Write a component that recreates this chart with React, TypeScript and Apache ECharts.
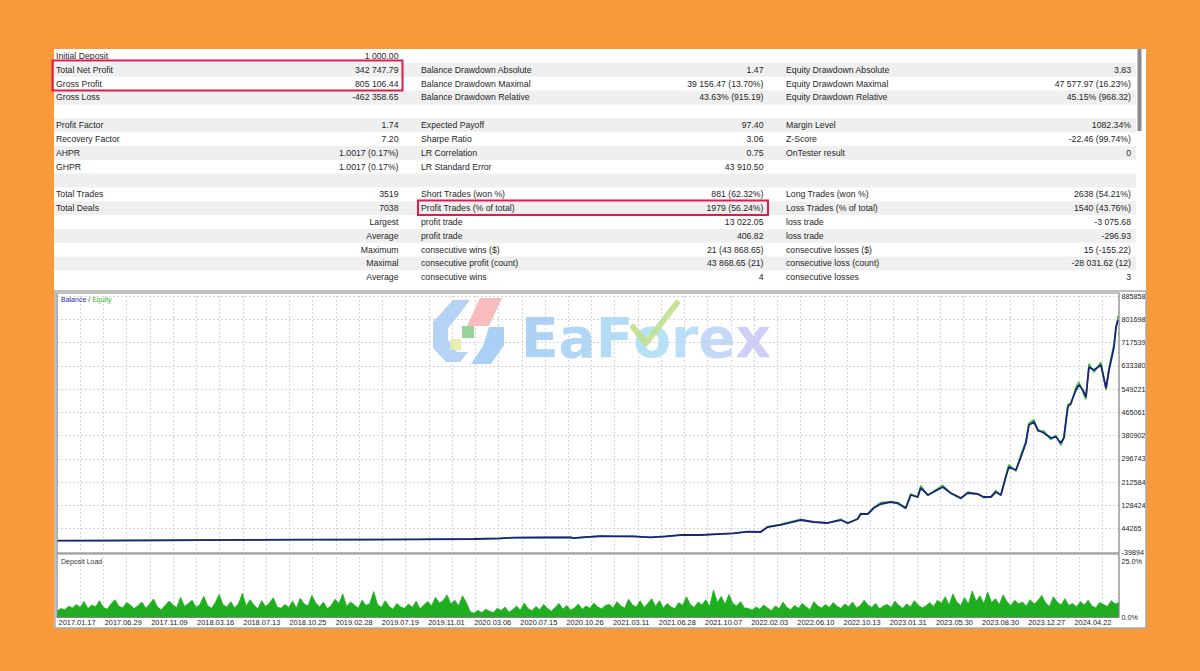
import React, { useEffect, useRef } from "react";
import * as echarts from "echarts";

// ---------- DATA ----------
const yTickLabels = ["-39894", "44265", "128424", "212584", "296743", "380902", "465061", "549221", "633380", "717539", "801698", "885858"];
const dateLabels = ["2017.01.17", "2017.06.29", "2017.11.09", "2018.03.16", "2018.07.13", "2018.10.25", "2019.02.28", "2019.07.19", "2019.11.01", "2020.03.06", "2020.07.15", "2020.10.26", "2021.03.11", "2021.06.28", "2021.10.07", "2022.02.03", "2022.06.10", "2022.10.13", "2023.01.31", "2023.05.30", "2023.08.30", "2023.12.27", "2024.04.22"];

// [deal number, balance]
const balancePoints: [number, number][] = [[0,1000],[285,1500],[617,2200],[949,3000],[1280,3800],[1612,4500],[2076,5200],[2408,6000],[2759,7100],[2938,9500],[3025,11800],[3204,12500],[3403,13300],[3423,10500],[3502,14000],[3602,17500],[3701,16800],[3821,16500],[3933,13300],[4033,16500],[4132,21500],[4265,21600],[4378,25000],[4484,27700],[4577,33500],[4663,32400],[4709,50500],[4796,57800],[4928,75800],[5015,68600],[5107,65000],[5194,75800],[5240,65000],[5306,79500],[5326,97500],[5373,97500],[5413,119200],[5459,133700],[5525,140900],[5572,137300],[5625,119200],[5658,166300],[5704,159000],[5724,191600],[5771,166300],[5810,177100],[5870,195200],[5923,173500],[5990,155400],[6036,173500],[6102,169900],[6142,159000],[6189,159000],[6222,177100],[6255,166300],[6288,231400],[6308,267500],[6355,256700],[6388,303700],[6421,354300],[6441,419400],[6474,430300],[6501,401300],[6540,390500],[6587,372400],[6620,376000],[6653,354300],[6673,372400],[6699,484500],[6719,499000],[6753,546000],[6773,564000],[6799,546000],[6819,520700],[6839,629000],[6872,618300],[6918,636400],[6952,553200],[6972,618300],[7005,701500],[7018,773800],[7032,799200]];

// [deal number, equity]
const equityPoints: [number, number][] = [[0,1000],[285,1500],[617,2200],[949,3000],[1280,3800],[1612,4500],[2076,5200],[2408,6000],[2759,7100],[2938,9500],[3025,11800],[3204,12500],[3403,13300],[3423,10500],[3502,14000],[3602,17500],[3701,16800],[3821,16500],[3933,13300],[4033,16500],[4132,21500],[4265,21600],[4378,25000],[4484,27700],[4577,33500],[4663,32400],[4709,50500],[4796,60500],[4928,78500],[5015,68600],[5107,65000],[5194,78500],[5240,63000],[5306,79500],[5326,99500],[5373,97500],[5413,121200],[5459,138700],[5525,140900],[5572,134300],[5625,117200],[5658,170300],[5704,157000],[5724,199600],[5771,164300],[5810,180100],[5870,201200],[5923,171500],[5990,152400],[6036,176500],[6102,169900],[6142,156000],[6189,159000],[6222,182100],[6255,164300],[6288,236400],[6308,275500],[6355,252700],[6388,312700],[6421,360300],[6441,425400],[6474,438300],[6501,396300],[6540,397500],[6587,366400],[6620,382000],[6653,346300],[6673,378400],[6699,494500],[6719,492000],[6753,556000],[6773,574000],[6799,538000],[6819,512700],[6839,641000],[6872,610300],[6918,646400],[6952,545200],[6972,626300],[7005,712500],[7018,768800],[7032,815200]];

// deposit load, %
const depositLoad: number[] = [
  2.5,3.5,3,4.5,3.8,5.2,4,6.5,3.5,5,4.2,
  6.8,4,3.2,5.5,7.2,4.5,3.8,6,5,3.5,4.8,6.2,
  3.6,5.4,7.5,4.2,3,4.8,6.6,5.1,3.9,8.2,4.4,5.6,
  7,4,5.2,8.6,4.8,3.6,6,9.4,5,4.2,6.4,3.8,
  5.6,9.8,4.6,7.2,5,3.4,6.8,4.4,5.8,8,4.2,3.6,
  5.2,4,6.6,3.8,7.8,5.4,4.6,9,5.8,4.2,6.2,3.4,
  4.8,7.4,5.6,9.6,4.4,6.2,5,3.6,7,4.8,5.6,10.6,
  5.2,4,6.8,4.4,3.2,5.6,4.2,3.6,5.4,4,6.6,3.4,
  5,6.4,4.6,8.2,5.8,6.8,9.2,5.4,7,4.6,8.8,6,
  2.2,1.6,2.8,1.8,3.2,2.4,1.8,3.6,2.6,4.2,2,3,
  4.6,2.8,5.8,3.4,2.6,4.4,3,5.2,3.6,2.4,4,5.6,
  3.2,4.8,2.8,3.8,5.4,3.2,4.6,3.6,5.8,4.2,3.4,4.8,
  5.2,3.8,6.4,4.6,3.6,7.4,5,4.2,6.8,4,5.6,7.6,
  4.4,6.8,3.8,5.6,4.2,3.4,6,4.8,8.4,5.2,4,6.2,
  5,7.2,4.4,11.2,6,8.6,5.2,9.4,5.6,4.6,6.4,3.8,
  3.6,2.8,4.2,3.2,5,3.8,2.6,4.6,3.4,6.2,4,3,
  4.8,3.6,5.6,4.2,3,6.4,4.6,3.8,5.2,4,6,4.4,
  3.6,5.4,4.2,6.2,3.8,4.8,7,5,4,5.6,3.4,4.6,
  5.2,4,6.6,4.8,3.6,5.4,4.2,6.8,5,3.8,4.6,6,
  4.4,7,5.6,8.4,5,9.6,6.2,4.8,8,5.4,10.8,6.6,
  8.8,5.6,10.4,6,7.6,5.2,9.2,6.4,4.8,7,5.4,6.2,
  4.6,7.2,5.4,6.8,9,5.8,4.4,8.4,6.2,5,7.6,4.8,
  5.6,4.2,6.4,5,7,4.6,3.8,6,5.2,4.4,6.8,5.4,6
];

// report table: [label, value]
const tableCol1: [string, string][] = [
  ["Initial Deposit", "1 000.00"], ["Total Net Profit", "342 747.79"], ["Gross Profit", "805 106.44"], ["Gross Loss", "-462 358.65"], ["", ""],
  ["Profit Factor", "1.74"], ["Recovery Factor", "7.20"], ["AHPR", "1.0017 (0.17%)"], ["GHPR", "1.0017 (0.17%)"], ["", ""],
  ["Total Trades", "3519"], ["Total Deals", "7038"], ["", "Largest"], ["", "Average"], ["", "Maximum"], ["", "Maximal"], ["", "Average"],
];
const tableCol2: [string, string][] = [
  ["", ""], ["Balance Drawdown Absolute", "1.47"], ["Balance Drawdown Maximal", "39 156.47 (13.70%)"], ["Balance Drawdown Relative", "43.63% (915.19)"], ["", ""],
  ["Expected Payoff", "97.40"], ["Sharpe Ratio", "3.06"], ["LR Correlation", "0.75"], ["LR Standard Error", "43 910.50"], ["", ""],
  ["Short Trades (won %)", "881 (62.32%)"], ["Profit Trades (% of total)", "1979 (56.24%)"], ["profit trade", "13 022.05"], ["profit trade", "406.82"],
  ["consecutive wins ($)", "21 (43 868.65)"], ["consecutive profit (count)", "43 868.65 (21)"], ["consecutive wins", "4"],
];
const tableCol3: [string, string][] = [
  ["", ""], ["Equity Drawdown Absolute", "3.83"], ["Equity Drawdown Maximal", "47 577.97 (16.23%)"], ["Equity Drawdown Relative", "45.15% (968.32)"], ["", ""],
  ["Margin Level", "1082.34%"], ["Z-Score", "-22.46 (99.74%)"], ["OnTester result", "0"], ["", ""], ["", ""],
  ["Long Trades (won %)", "2638 (54.21%)"], ["Loss Trades (% of total)", "1540 (43.76%)"], ["loss trade", "-3 075.68"], ["loss trade", "-296.93"],
  ["consecutive losses ($)", "15 (-155.22)"], ["consecutive loss (count)", "-28 031.62 (12)"], ["consecutive losses", "3"],
];

// ---------- LAYOUT / STYLE ----------
const FONT = "'Liberation Sans', Arial, sans-serif";
const ROW0 = 56;
const ROW_H = 13.83;
const PLOT_L = 57;
const PLOT_W = 1062;
const GRID_LINE = { show: true, lineStyle: { color: "#d6d6d6", type: [2, 2] as any, width: 1 } };
const LOGO_FONT = "'DejaVu Sans', sans-serif";

function buildGraphics() {
  const els: any[] = [];
  els.push({ type: "rect", z: -5, shape: { x: 54, y: 49, width: 1092, height: 579 }, style: { fill: "#ffffff" } });
  for (let i = 0; i < 17; i++) {
    if (i % 2 === 1) {
      els.push({ type: "rect", z: -4, shape: { x: 54, y: ROW0 + ROW_H * i - ROW_H / 2, width: 1082, height: ROW_H }, style: { fill: "#efefef" } });
    }
  }
  const cols = [
    { data: tableCol1, lx: 56, vx: 398.5 },
    { data: tableCol2, lx: 421, vx: 763.5 },
    { data: tableCol3, lx: 786, vx: 1131 },
  ];
  cols.forEach((c) => {
    c.data.forEach(([lab, val], i) => {
      const y = ROW0 + ROW_H * i;
      if (lab) els.push({ type: "text", z: 3, x: c.lx, y, style: { text: lab, fill: "#262626", fontSize: 8.7, fontFamily: FONT, align: "left", verticalAlign: "middle" } });
      if (val) els.push({ type: "text", z: 3, x: c.vx, y, style: { text: val, fill: "#262626", fontSize: 8.7, fontFamily: FONT, align: "right", verticalAlign: "middle" } });
    });
  });
  els.push({ type: "rect", z: 3, shape: { x: 1137.5, y: 49, width: 4, height: 82 }, style: { fill: "#8a8a8a" } });
  els.push({ type: "rect", z: 6, shape: { x: 52.5, y: 60.5, width: 350, height: 30 }, style: { fill: "none", stroke: "#E31B4B", lineWidth: 2 } });
  els.push({ type: "rect", z: 6, shape: { x: 418, y: 200.5, width: 350, height: 14.5 }, style: { fill: "none", stroke: "#E31B4B", lineWidth: 2 } });
  els.push({ type: "rect", z: 5, shape: { x: 55, y: 291, width: 1091, height: 337 }, style: { fill: "none", stroke: "#aaaaaa", lineWidth: 1.5 } });
  els.push({ type: "rect", z: 5, shape: { x: 57, y: 293, width: 1062, height: 260 }, style: { fill: "none", stroke: "#858585", lineWidth: 1.2 } });
  els.push({ type: "rect", z: 5, shape: { x: 57, y: 554, width: 1062, height: 63.5 }, style: { fill: "none", stroke: "#858585", lineWidth: 1.2 } });
  els.push({
    type: "text", z: 5, x: 61, y: 299,
    style: {
      text: "{b|Balance} / {e|Equity}", fill: "#333", fontSize: 7, fontFamily: FONT, verticalAlign: "middle",
      rich: { b: { fill: "#2a2a9c", fontSize: 7, fontFamily: FONT }, e: { fill: "#33b033", fontSize: 7, fontFamily: FONT } },
    },
  });
  els.push({ type: "text", z: 5, x: 61, y: 561, style: { text: "Deposit Load", fill: "#333", fontSize: 7, fontFamily: FONT, verticalAlign: "middle" } });
  // watermark logo
  const letterStyle = (c: string) => ({ fill: c, fontSize: 55, fontWeight: "bold", fontFamily: LOGO_FONT });
  els.push({
    type: "group", z: 1,
    children: [
      { type: "polygon", z: 1, shape: { points: [[453, 300], [470, 300], [458, 316], [448, 328], [448, 340], [457, 352], [468, 352], [460, 362], [446, 362], [433, 348], [433, 322]] }, style: { fill: "#a9cbf4", opacity: 0.85 } },
      { type: "polygon", z: 1, shape: { points: [[480, 298], [502, 298], [489, 326], [467, 326]] }, style: { fill: "#f6b2b2", opacity: 0.85 } },
      { type: "polygon", z: 1, shape: { points: [[489, 327], [504, 327], [504, 345], [491, 364], [471, 364], [483, 346]] }, style: { fill: "#9cc8f3", opacity: 0.85 } },
      { type: "rect", z: 1, shape: { x: 462, y: 326, width: 12, height: 12 }, style: { fill: "#86cc86", opacity: 0.85 } },
      { type: "rect", z: 1, shape: { x: 450, y: 339, width: 11, height: 11 }, style: { fill: "#e2eca6", opacity: 0.85 } },
      {
        type: "text", z: 1, x: 521, y: 338,
        style: {
          text: "{a|E}{b|a}{c|F}{d|o}{e|r}{f|e}{g|x}", fontSize: 55, fontWeight: "bold", fontFamily: LOGO_FONT, verticalAlign: "middle", opacity: 0.85,
          fill: "#a9d3f4",
          rich: {
            a: letterStyle("#9fcaf4"), b: letterStyle("#a4cff5"), c: letterStyle("#a8d6f4"), d: letterStyle("#aadcf2"),
            e: letterStyle("#afd9f4"), f: letterStyle("#b9d2f6"), g: letterStyle("#c7c6f6"),
          },
        },
      },
      { type: "polyline", z: 1, shape: { points: [[633, 327], [646, 343], [677, 303]] }, style: { stroke: "#c0e08e", lineWidth: 6, lineCap: "round", lineJoin: "round", fill: "none", opacity: 0.9 } },
    ],
  });
  els.push({ type: "text", z: 1, x: 943, y: 612, style: { text: "Activate Windows", fill: "rgba(140,140,140,0.22)", fontSize: 12.5, fontFamily: FONT, verticalAlign: "middle" } });
  return els;
}

export default function App() {
  const ref = useRef<HTMLDivElement>(null);
  useEffect(() => {
    if (!ref.current) return;
    const chart = echarts.init(ref.current, undefined, { renderer: "svg" });
    const axisText = { fontSize: 7.2, fontFamily: FONT, color: "#222" };
    const option: any = {
      animation: false,
      backgroundColor: "#F8993A",
      textStyle: { fontFamily: FONT },
      grid: [
        { left: PLOT_L, top: 296, width: PLOT_W, height: 256, show: false },
        { left: PLOT_L, top: 557, width: PLOT_W, height: 60, show: false },
      ],
      xAxis: [
        { type: "value", gridIndex: 0, min: 0, max: 7038, interval: 154, position: "bottom", axisLine: { show: false }, axisTick: { show: false }, axisLabel: { show: false }, splitLine: GRID_LINE },
        { type: "value", gridIndex: 1, min: 0, max: 7038, interval: 154, position: "top", axisLine: { show: false }, axisTick: { show: false }, axisLabel: { show: false }, splitLine: GRID_LINE },
        { type: "category", gridIndex: 1, data: depositLoad.map((_, i) => String(i)), boundaryGap: false, show: false },
        {
          type: "category", gridIndex: 1, data: dateLabels, boundaryGap: true, position: "bottom",
          axisLine: { show: false }, axisTick: { show: false }, splitLine: { show: false },
          axisLabel: { ...axisText, fontSize: 7.4, margin: 2, interval: 0, padding: [0, 6, 0, 0] },
        },
      ],
      yAxis: [
        { type: "value", gridIndex: 0, min: -39894, max: 885858, show: false },
        {
          type: "value", gridIndex: 0, min: 0, max: 11, interval: 1, position: "right",
          axisLine: { show: false }, axisTick: { show: false }, splitLine: GRID_LINE,
          axisLabel: { ...axisText, margin: 2.5, showMinLabel: true, showMaxLabel: true, formatter: (v: number) => yTickLabels[Math.round(v)] ?? "" },
        },
        {
          type: "value", gridIndex: 1, min: 0, max: 25, interval: 25, position: "right",
          axisLine: { show: false }, axisTick: { show: false }, splitLine: { show: false },
          axisLabel: {
            ...axisText, margin: 2.5, showMinLabel: true, showMaxLabel: true,
            formatter: (v: number) => (v > 0 ? "{t|" + v.toFixed(1) + "%}" : v.toFixed(1) + "%"),
            rich: { t: { fontSize: 7.2, fontFamily: FONT, color: "#222", padding: [9, 0, 0, 0] } },
          },
        },
      ],
      series: [
        { name: "Equity", type: "line", xAxisIndex: 0, yAxisIndex: 0, data: equityPoints, symbol: "none", lineStyle: { color: "#3cbf3c", width: 1.6 }, z: 3 },
        { name: "Balance", type: "line", xAxisIndex: 0, yAxisIndex: 0, data: balancePoints, symbol: "none", lineStyle: { color: "#1a237e", width: 1.8 }, z: 4 },
        {
          name: "Deposit Load", type: "line", xAxisIndex: 2, yAxisIndex: 2, data: depositLoad, symbol: "none",
          lineStyle: { color: "#1fae1f", width: 0.8 }, areaStyle: { color: "#1fae1f", opacity: 1 }, z: 3,
        },
      ],
      graphic: { elements: buildGraphics() },
    };
    chart.setOption(option);
    return () => chart.dispose();
  }, []);
  return <div ref={ref} style={{ position: "fixed", left: 0, top: 0, width: 1200, height: 671 }} />;
}
